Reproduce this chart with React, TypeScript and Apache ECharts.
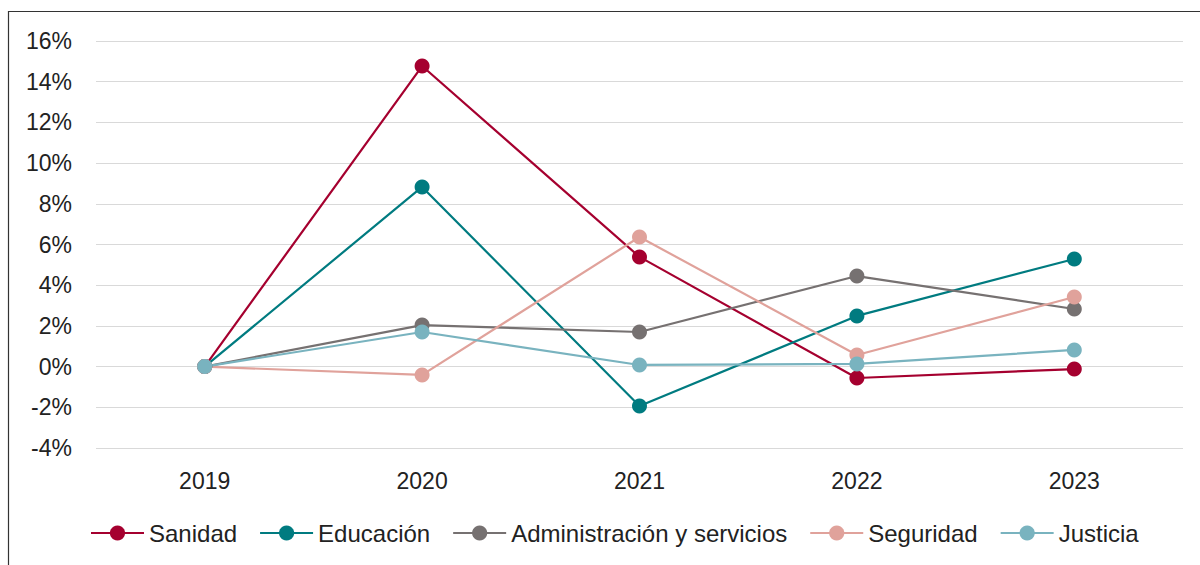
import React, { useEffect, useRef } from "react";
import * as echarts from "echarts";

const years = ["2019", "2020", "2021", "2022", "2023"];
const sanidad = [0, 14.77, 5.39, -0.56, -0.12];
const educacion = [0, 8.83, -1.94, 2.49, 5.29];
const administracion = [0, 2.04, 1.7, 4.45, 2.83];
const seguridad = [0, -0.41, 6.37, 0.57, 3.42];
const justicia = [0, 1.7, 0.08, 0.13, 0.82];

const seriesDefs = [
  { name: "Sanidad", data: sanidad, color: "#A5002F" },
  { name: "Educación", data: educacion, color: "#007B80" },
  { name: "Administración y servicios", data: administracion, color: "#767171" },
  { name: "Seguridad", data: seguridad, color: "#E0A29B" },
  { name: "Justicia", data: justicia, color: "#79B3BF" },
];

const FONT = "'Liberation Sans', Arial, sans-serif";

export default function App() {
  const ref = useRef<HTMLDivElement>(null);
  useEffect(() => {
    document.body.style.margin = "0";
    const chart = echarts.init(ref.current!, null, { renderer: "svg" });
    chart.setOption({
      animation: false,
      backgroundColor: "#ffffff",
      textStyle: { fontFamily: FONT },
      graphic: [
        {
          type: "rect",
          shape: { x: 8.5, y: 11.5, width: 1300, height: 700 },
          style: { fill: "none", stroke: "#333333", lineWidth: 1.2 },
          silent: true,
          z: -1,
        },
      ],
      grid: { left: 96, right: 17, top: 41, bottom: 117, containLabel: false },
      legend: {
        top: 516,
        left: 85,
        itemWidth: 53,
        itemHeight: 19,
        itemGap: 22,
        textStyle: { fontFamily: FONT, fontSize: 24, color: "#222222" },
        data: seriesDefs.map((s) => s.name),
      },
      xAxis: {
        type: "category",
        data: years,
        boundaryGap: true,
        axisLine: { show: false },
        axisTick: { show: false },
        axisLabel: { fontFamily: FONT, fontSize: 23, color: "#222222", margin: 21 },
      },
      yAxis: {
        type: "value",
        min: -4,
        max: 16,
        interval: 2,
        axisLine: { show: false },
        axisTick: { show: false },
        splitLine: { lineStyle: { color: "#d9d9d9", width: 1.2 } },
        axisLabel: {
          fontFamily: FONT,
          fontSize: 23,
          color: "#222222",
          margin: 24,
          formatter: (v: number) => `${v}%`,
        },
      },
      series: seriesDefs.map((s) => ({
        name: s.name,
        type: "line",
        data: s.data,
        symbol: "circle",
        symbolSize: 15,
        color: s.color,
        lineStyle: { width: 2.2, color: s.color },
        itemStyle: { color: s.color },
      })),
    });
    return () => chart.dispose();
  }, []);
  return <div ref={ref} style={{ width: 1200, height: 565 }} />;
}
